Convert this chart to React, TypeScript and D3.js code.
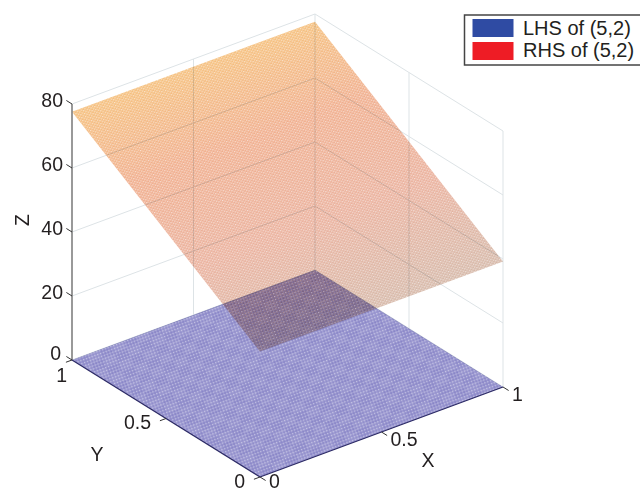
import React from 'react';
import * as d3 from 'd3';

const xTicks = [0, 0.5, 1];
const yTicks = [0, 0.5, 1];
const zTicks = [0, 20, 40, 60, 80];

// corners of the two planes, in the order (0,0) (1,0) (1,1) (0,1)
const cornerX = [0, 1, 1, 0];
const cornerY = [0, 0, 1, 1];
const lhsZ = [0, 0, 0, 0];
const rhsZ = [39.2, 39.2, 77.6, 77.6];

const legendLabels = ['LHS of (5,2)', 'RHS of (5,2)'];
const legendColors = ['#2f4ba3', '#ee1c25'];

const font = '"Liberation Sans", Arial, sans-serif';

// oblique projection: every data axis adds its own screen offset
const xToH = d3.scaleLinear().domain([0, 1]).range([0, 243]);
const xToV = d3.scaleLinear().domain([0, 1]).range([0, -90]);
const yToH = d3.scaleLinear().domain([0, 1]).range([0, -188]);
const yToV = d3.scaleLinear().domain([0, 1]).range([0, -117]);
const zToV = d3.scaleLinear().domain([0, 80]).range([0, -256]);

const project = (x: number, y: number, z: number): [number, number] => [
  260 + xToH(x) + yToH(y),
  477 + xToV(x) + yToV(y) + zToV(z),
];

const line = d3.line<[number, number]>();
const seg = (a: [number, number], b: [number, number]) => line([a, b]) as string;
const surface = (zs: number[]) =>
  (line(zs.map((z, i) => project(cornerX[i], cornerY[i], z))) as string) + 'Z';

// colour ramp runs across the plane, normal to its level lines
const gradStart = project(1, 0, rhsZ[1]);
const gradRaw = project(0, 1, rhsZ[3]);
const nx = 90 / Math.hypot(90, 243);
const ny = 243 / Math.hypot(90, 243);
const gradLen = (gradRaw[0] - gradStart[0]) * nx + (gradRaw[1] - gradStart[1]) * ny;
const gradEnd = [gradStart[0] + nx * gradLen, gradStart[1] + ny * gradLen];

const App = () => {
  const gridColor = '#dde3e6';
  const maxZ = zTicks[zTicks.length - 1];

  return (
    <svg
      width={640}
      height={488}
      style={{ position: 'absolute', top: 0, left: 0, background: '#fff' }}
      fontFamily={font}
      fontSize={19.5}
      fill="#231f20"
    >
      <defs>
        <linearGradient
          id="rhsGrad"
          gradientUnits="userSpaceOnUse"
          x1={gradStart[0]}
          y1={gradStart[1]}
          x2={gradEnd[0]}
          y2={gradEnd[1]}
        >
          <stop offset="0" stopColor="#d6b8a8" />
          <stop offset="0.35" stopColor="#eab09c" />
          <stop offset="0.7" stopColor="#f0ad8c" />
          <stop offset="1" stopColor="#f5bf7c" />
        </linearGradient>
        <pattern id="rhsDots" width="4" height="3" patternUnits="userSpaceOnUse" patternTransform="rotate(-20)">
          <rect x="0" y="0" width="1.5" height="1.3" fill="#fff" fillOpacity="0.6" />
          <rect x="2" y="1.5" width="1.5" height="1.3" fill="#fff" fillOpacity="0.6" />
        </pattern>
        <pattern id="lhsDots" width="3" height="3" patternUnits="userSpaceOnUse" patternTransform="rotate(-20)">
          <rect x="0" y="0" width="1.3" height="1.2" fill="#fff" fillOpacity="0.4" />
          <rect x="1.5" y="1.5" width="1.3" height="1.2" fill="#5f5cb0" fillOpacity="0.5" />
        </pattern>
        <pattern id="lhsBands" width="26" height="19" patternUnits="userSpaceOnUse" patternTransform="rotate(-22)">
          <rect x="0" y="0" width="13" height="9.5" fill="#fff" fillOpacity="0.07" />
          <rect x="13" y="9.5" width="13" height="9.5" fill="#fff" fillOpacity="0.07" />
        </pattern>
      </defs>

      {/* back walls */}
      <g stroke={gridColor} strokeWidth={1} fill="none">
        {zTicks.map((z) => (
          <g key={z}>
            <path d={seg(project(0, 1, z), project(1, 1, z))} />
            <path d={seg(project(1, 1, z), project(1, 0, z))} />
          </g>
        ))}
        {xTicks.slice(1).map((x) => (
          <path key={x} d={seg(project(x, 1, 0), project(x, 1, maxZ))} />
        ))}
        {yTicks.slice(0, -1).map((y) => (
          <path key={y} d={seg(project(1, y, 0), project(1, y, maxZ))} />
        ))}
      </g>

      {/* planes */}
      <g style={{ mixBlendMode: 'multiply' }}>
        <path d={surface(rhsZ)} fill="url(#rhsGrad)" />
        <path d={surface(rhsZ)} fill="url(#rhsDots)" />
      </g>
      <g style={{ mixBlendMode: 'multiply' }}>
        <path d={surface(lhsZ)} fill="#9895cf" />
        <path d={surface(lhsZ)} fill="url(#lhsDots)" />
        <path d={surface(lhsZ)} fill="url(#lhsBands)" />
      </g>

      {/* axes */}
      <path d={seg(project(0, 1, 0), project(0, 1, maxZ))} stroke="#777" strokeWidth={1.5} fill="none" />
      <path d={seg(project(0, 1, 0), project(0, 0, 0))} stroke="#2d2b66" strokeWidth={1.3} fill="none" />
      <path d={seg(project(0, 0, 0), project(1, 0, 0))} stroke="#2d2b66" strokeWidth={1.3} fill="none" />

      {zTicks.map((z) => {
        const [px, py] = project(0, 1, z);
        return (
          <g key={z}>
            <path d={seg([px, py], project(0, 1.03, z))} stroke="#333" fill="none" />
            <text x={px - (z === 0 ? 11 : 9)} y={py + (z === 0 ? 0 : 3)} textAnchor="end">
              {z}
            </text>
          </g>
        );
      })}
      {yTicks.map((y) => {
        const [px, py] = project(0, y, 0);
        // the label at y = 1 hugs the axis corner, below the z = 0 label
        const dx = y === 1 ? -5 : -15;
        const dy = y === 1 ? 22 : 10.5;
        return (
          <g key={y}>
            <path d={seg([px, py], project(-0.025, y, 0))} stroke="#333" fill="none" />
            <text x={px + dx} y={py + dy} textAnchor="end">
              {y}
            </text>
          </g>
        );
      })}
      {xTicks.map((x) => {
        const [px, py] = project(x, 0, 0);
        return (
          <g key={x}>
            <path d={seg([px, py], project(x, -0.03, 0))} stroke="#333" fill="none" />
            <text x={px + 9} y={Math.min(py + 14, 487.5)} textAnchor="start">
              {x}
            </text>
          </g>
        );
      })}

      <text x={97} y={461} textAnchor="middle">Y</text>
      <text x={428} y={467} textAnchor="middle">X</text>
      <text transform="translate(29,220) rotate(-90)" textAnchor="middle">Z</text>

      {/* legend */}
      <rect x={464.5} y={15} width={178} height={50} fill="#fff" stroke="#444" strokeWidth={1.5} />
      {legendLabels.map((label, i) => (
        <g key={label}>
          <rect x={472.5} y={19 + i * 23} width={41} height={18} fill={legendColors[i]} />
          <text x={523} y={35 + i * 22} fontSize={20}>
            {label}
          </text>
        </g>
      ))}
    </svg>
  );
};

export default App;
